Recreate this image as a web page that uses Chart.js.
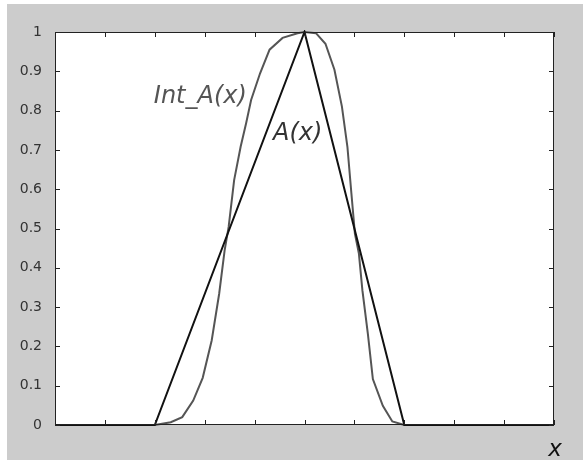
<!DOCTYPE html>
<html>
<head>
<meta charset="utf-8">
<script src="https://cdn.jsdelivr.net/npm/chart.js@4"></script>
<style>
  html, body { margin: 0; padding: 0; background: #fff; }
  #wrap { width: 583px; height: 460px; }
</style>
</head>
<body>
<div id="wrap"><canvas id="chart" width="583" height="460"></canvas></div>
<script>
// triangle membership A(x)
const aX = [0, 2, 5, 7, 10];
const aY = [0, 0, 1, 0, 0];

// interpolated curve Int_A(x)
const intX = [0, 2, 2.32, 2.55, 2.77, 2.96, 3.14, 3.29, 3.40, 3.48, 3.59, 3.72, 3.83, 3.93,
  4.11, 4.30, 4.56, 4.86, 5.0, 5.23, 5.42, 5.60, 5.75, 5.86, 5.94, 6.01, 6.09, 6.16,
  6.27, 6.37, 6.57, 6.76, 7.0, 10];
const intY = [0, 0, 0.007, 0.02, 0.062, 0.12, 0.215, 0.334, 0.445, 0.504, 0.623, 0.708, 0.768, 0.827,
  0.895, 0.955, 0.985, 0.997, 1.0, 0.997, 0.97, 0.904, 0.81, 0.708, 0.589, 0.487, 0.436, 0.343,
  0.232, 0.117, 0.049, 0.009, 0, 0];

const xTicks = [0, 1, 2, 3, 4, 5, 6, 7, 8, 9, 10];
const yTicks = [0, 0.1, 0.2, 0.3, 0.4, 0.5, 0.6, 0.7, 0.8, 0.9, 1];

const toPoints = (xs, ys) => xs.map((x, i) => ({ x: x, y: ys[i] }));

// gray figure, white axes box, inward ticks on all four sides, text labels
const matlabFrame = {
  id: "matlabFrame",
  beforeDraw(chart) {
    const c = chart.ctx;
    const a = chart.chartArea;
    c.save();
    c.fillStyle = "#cccccc";
    c.fillRect(7, 4, chart.width - 7, chart.height - 4);
    c.fillStyle = "#ffffff";
    c.fillRect(a.left, a.top, a.right - a.left, a.bottom - a.top);
    c.restore();
  },
  afterDatasetsDraw(chart) {
    const c = chart.ctx;
    const a = chart.chartArea;
    const xs = chart.scales.x;
    const ys = chart.scales.y;
    c.save();
    c.strokeStyle = "#222";
    c.lineWidth = 1;
    c.strokeRect(a.left + 0.5, a.top + 0.5, a.right - a.left - 1, a.bottom - a.top - 1);
    c.beginPath();
    xTicks.forEach((t) => {
      const px = Math.round(xs.getPixelForValue(t)) + 0.5;
      c.moveTo(px, a.bottom); c.lineTo(px, a.bottom - 5);
      c.moveTo(px, a.top); c.lineTo(px, a.top + 5);
    });
    yTicks.forEach((t) => {
      const py = Math.round(ys.getPixelForValue(t)) + 0.5;
      c.moveTo(a.left, py); c.lineTo(a.left + 5, py);
      c.moveTo(a.right, py); c.lineTo(a.right - 5, py);
    });
    c.stroke();

    c.font = "italic 24px 'DejaVu Sans'";
    c.textBaseline = "alphabetic";
    c.textAlign = "left";
    c.fillStyle = "#555";
    c.fillText("Int_A(x)", xs.getPixelForValue(1.98), ys.getPixelForValue(0.82));
    c.fillStyle = "#333";
    c.fillText("A(x)", xs.getPixelForValue(4.37), ys.getPixelForValue(0.725));

    c.font = "italic 23px 'DejaVu Sans'";
    c.fillStyle = "#111";
    c.textAlign = "center";
    c.fillText("x", a.right + 1, a.bottom + 31);
    c.restore();
  },
};

new Chart(document.getElementById("chart"), {
  type: "scatter",
  data: {
    datasets: [
      {
        label: "A(x)",
        data: toPoints(aX, aY),
        showLine: true,
        borderColor: "#111",
        borderWidth: 2,
        pointRadius: 0,
        tension: 0,
        clip: 2,
      },
      {
        label: "Int_A(x)",
        data: toPoints(intX, intY),
        showLine: true,
        borderColor: "#555",
        borderWidth: 2,
        pointRadius: 0,
        tension: 0,
        clip: 2,
      },
    ],
  },
  options: {
    responsive: false,
    animation: false,
    layout: { padding: { left: 0, top: 32, right: 29, bottom: 0 } },
    plugins: { legend: { display: false }, tooltip: { enabled: false } },
    scales: {
      x: {
        type: "linear",
        min: 0,
        max: 10,
        grid: { display: false },
        border: { display: false },
        ticks: { display: false },
        afterFit: (s) => { s.height = 35; },
      },
      y: {
        min: 0,
        max: 1,
        grid: { display: false },
        border: { display: false },
        afterBuildTicks: (s) => { s.ticks = yTicks.map((v) => ({ value: v })); },
        ticks: {
          padding: 5,
          color: "#333",
          font: { family: "'DejaVu Sans'", size: 14 },
          callback: (v) => String(v),
        },
        afterFit: (s) => { s.width = 55; },
      },
    },
  },
  plugins: [matlabFrame],
});
</script>
</body>
</html>
